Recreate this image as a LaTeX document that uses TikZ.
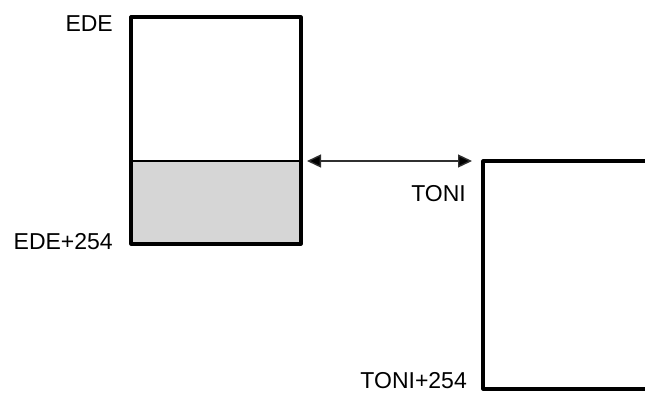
\documentclass[tikz,border=0pt]{standalone}
\usepackage{fontspec}
\setmainfont{Liberation Sans}
\usetikzlibrary{arrows.meta}
\definecolor{boxgray}{HTML}{D6D6D6}
\definecolor{arrowgray}{HTML}{303030}
\begin{document}
\begin{tikzpicture}[x=1pt,y=-1pt,
  boxline/.style={line width=3.2pt,line join=round,line cap=round},
  lbl/.style={anchor=east,inner sep=0pt,font=\fontsize{23}{27}\selectfont},
  link/.style={line width=1.4pt,draw=arrowgray,{Triangle[length=14pt,width=13pt,fill=black]}-{Triangle[length=14pt,width=13pt,fill=black]}}]
\useasboundingbox (0,0) rectangle (645,394);
% left block
\coordinate (ltl) at (131,17);
\coordinate (lbr) at (301,244);
\coordinate (lmid) at (131,161);
\coordinate (lmidr) at (301,161);
\fill[boxgray] (lmid) rectangle (lbr);
\draw[line width=2pt] (lmid) -- (lmidr);
\draw[boxline] (ltl) rectangle (lbr);
% right block (open on the right)
\coordinate (rtr) at (648,161);
\coordinate (rtl) at (483,161);
\coordinate (rbl) at (483,389);
\coordinate (rbr) at (648,389);
\draw[boxline] (rtr) -- (rtl) -- (rbl) -- (rbr);
% arrow
\coordinate (aL) at (307,161);
\coordinate (aR) at (472,161);
\draw[link] (aL) -- (aR);
% labels
\node[lbl] (ede) at (113,24) {EDE};
\node[lbl] (ede254) at (113,242) {EDE+254};
\node[lbl] (toni) at (466,194) {TONI};
\node[lbl] (toni254) at (467,381) {TONI+254};
\end{tikzpicture}
\end{document}
